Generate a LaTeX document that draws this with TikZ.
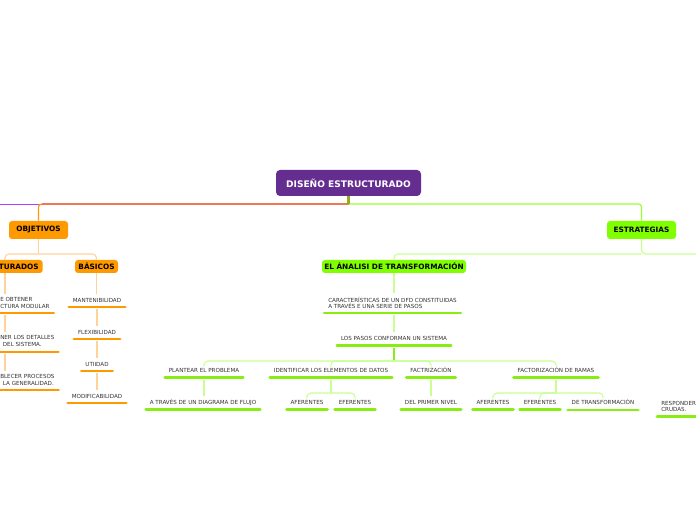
\documentclass[tikz,border=0pt]{standalone}
\usepackage{fontspec}
\setmainfont{DejaVu Sans}
\usetikzlibrary{calc}
\definecolor{rootc}{HTML}{662D91}
\definecolor{orng}{HTML}{FF9900}
\definecolor{orngl}{HTML}{FFD29A}
\definecolor{grn}{HTML}{80FF00}
\definecolor{grnbar}{HTML}{88EE11}
\definecolor{grnl}{HTML}{C8FF90}
\definecolor{grnb}{HTML}{99FF33}
\definecolor{txt}{HTML}{333333}
\definecolor{purp}{HTML}{B040FF}
\definecolor{olive}{HTML}{99AA22}
\definecolor{salmon}{HTML}{EE7755}
\begin{document}
\begin{tikzpicture}[x=0.75pt,y=-0.75pt,
  box/.style={rounded corners=2.25pt, inner sep=0pt, font=\bfseries\fontsize{5.5}{6}\selectfont, text=black, minimum height=9.75pt},
  lab/.style={font=\fontsize{4.2}{4.9}\selectfont, text=txt, inner xsep=3.75pt, inner ysep=0pt, text height=3.1pt, text depth=0pt},
  labtwo/.style={font=\fontsize{4.2}{4.9}\selectfont, text=txt, inner xsep=3.75pt, inner ysep=0pt, align=left},
  barO/.style={orng, line width=2.2pt, line cap=round, shorten <=0.9pt, shorten >=0.9pt},
  barG/.style={grnbar, line width=2.2pt, line cap=round, shorten <=0.9pt, shorten >=0.9pt},
  conO/.style={orngl, line width=0.8pt, rounded corners=3pt},
  conG/.style={grnl, line width=0.8pt, rounded corners=3pt},
  gapend/.style={shorten >=2.5pt},
  gapstart/.style={shorten <=1.5pt}]
\useasboundingbox[fill=white] (0,0) rectangle (696,520);

% ---------- boxes ----------
\node[box, fill=rootc, text=white, minimum width=108.75pt, minimum height=19.5pt,
      rounded corners=3pt, font=\bfseries\fontsize{6.8}{7}\selectfont] (root) at (348.5,183) {DISEÑO ESTRUCTURADO};
\node[box, fill=orng, minimum width=44.25pt, minimum height=13.5pt] (obj) at (38.5,230) {OBJETIVOS};
\node[box, fill=orng, inner xsep=3pt, anchor=east] (estr) at (43,266.5) {TURADOS};
\node[box, fill=orng, minimum width=32.25pt] (bas) at (96.5,266.5) {BÁSICOS};
\node[box, fill=grn, minimum width=51.75pt, minimum height=13.5pt] (estg) at (641.5,230) {ESTRATEGIAS};
\node[box, fill=grn, minimum width=108pt] (ana) at (394,266.5) {EL ÁNALISI DE TRANSFORMACIÓN};

% ---------- labels (orange branch) ----------
\node[labtwo, anchor=west] (e1) at (-5,303) {E OBTENER\\CTURA MODULAR};
\node[labtwo, anchor=west] (e2) at (-5,341) {NER LOS DETALLES\\\hspace*{2pt}DEL SISTEMA.};
\node[labtwo, anchor=west] (e3) at (-5,380) {BLECER PROCESOS\\\hspace*{2pt}LA GENERALIDAD.};
\node[lab] (m1) at (97,300) {MANTENIBILIDAD};
\node[lab] (m2) at (97,332) {FLEXIBILIDAD};
\node[lab] (m3) at (97,364) {UTIIDAD};
\node[lab] (m4) at (97,396) {MODIFICABILIDAD};

% ---------- labels (green branch) ----------
\node[labtwo, anchor=west] (c1) at (323,303) {CARACTERÍSTICAS DE UN DFD CONSTITUIDAS\\A TRAVÉS E UNA SERIE DE PASOS};
\node[lab] (c2) at (394,338) {LOS PASOS CONFORMAN UN SISTEMA};
\node[lab] (p1) at (204,370) {PLANTEAR EL PROBLEMA};
\node[lab] (p2) at (331,370) {IDENTIFICAR LOS ELEMENTOS DE DATOS};
\node[lab] (p3) at (431,370) {FACTRIZACIÓN};
\node[lab] (p4) at (556,370) {FACTORIZACIÓN DE RAMAS};
\node[lab] (q1) at (203,402) {A TRAVÉS DE UN DIAGRAMA DE FLUJO};
\node[lab] (q2) at (307,402) {AFERENTES};
\node[lab] (q3) at (355,402) {EFERENTES};
\node[lab] (q4) at (431,402) {DEL PRIMER NIVEL};
\node[lab] (q5) at (493,402) {AFERENTES};
\node[lab] (q6) at (540,402) {EFERENTES};
\node[lab] (q7) at (603,402.5) {DE TRANSFORMACIÓN};
\node[labtwo, anchor=west] (r1) at (656,406.5) {RESPONDER\\CRUDAS.};

% ---------- bar positions ----------
\foreach \n/\o in {e1/10,e2/11,e3/10,c1/10,r1/10}
  \coordinate (\n b) at ($(\n.center)+(0,\o)$);
\foreach \n in {m1,m2,m3,m4}
  \coordinate (\n b) at ($(\n.center)+(0,7)$);
\foreach \n in {c2,p1,p2,p3,p4,q1,q2,q3,q4,q5,q6,q7}
  \coordinate (\n b) at ($(\n.center)+(0,7.5)$);

% ---------- bars ----------
\foreach \n in {e1,e2,e3,m1,m2,m3,m4}
  \draw[barO] (\n b -| \n.west) -- (\n b -| \n.east);
\foreach \n in {c1,c2,p1,p2,p3,p4,q1,q2,q3,q4,q5,q6,q7,r1}
  \draw[barG] (\n b -| \n.west) -- (\n b -| \n.east);

% ---------- junction coordinates ----------
\coordinate (rj) at (348.5,204);
\coordinate (wl) at (-2,204.6);
\coordinate (oj) at (38.5,254);
\coordinate (ein) at (5,260);
\coordinate (gj) at (641.5,254);
\coordinate (gr) at (698,254);
\coordinate (pj) at (394,361);
\coordinate (p2j) at (331,393);
\coordinate (p4j) at (556,393);

% ---------- root connectors ----------
\draw[purp, line width=0.9pt] (rj |- wl) -- (wl);
\draw[salmon, line width=0.9pt] (rj) -- ($(rj -| obj.north)+(3,0)$);
\draw[orng, line width=0.9pt, rounded corners=2.25pt] ($(rj -| obj.north)+(3,0)$) -| (obj.north);
\draw[grnb, line width=0.9pt, rounded corners=2.25pt] (rj) -| (estg.north);
\draw[olive, line width=1.6pt] (root.south) -- (rj);

% ---------- orange branch ----------
\draw[conO] (obj.south) -- (oj);
\draw[conO] (oj) -| (ein);
\draw[conO] (oj) -| (bas.north);
\draw[conO, gapend] (estr.south -| ein) -- (e1.north -| ein);
\draw[conO, gapstart, gapend] (e1b -| ein) -- (e2.north -| ein);
\draw[conO, gapstart, gapend] (e2b -| ein) -- (e3.north -| ein);
\draw[conO, gapend] (bas.south) -- (m1.north -| bas.south);
\draw[conO, gapstart, gapend] (m1b) -- (m2.north);
\draw[conO, gapstart, gapend] (m2b) -- (m3.north);
\draw[conO, gapstart, gapend] (m3b) -- (m4.north);

% ---------- green branch ----------
\draw[conG] (estg.south) -- (gj) -- (gr);
\draw[conG] (gj) -| (ana.north);
\draw[conG, gapend] (ana.south) -- (c1.north -| ana.south);
\draw[conG, gapstart, gapend] (c1b -| ana.south) -- (c2.north -| ana.south);
\draw[grnbar, line width=1.4pt, gapstart] (c2b) -- (pj);
\foreach \n in {p1,p2,p3,p4}
  \draw[conG, gapend] (pj) -| (\n.north);
\draw[conG, gapstart, gapend] (p1b) -- (q1.north -| p1b);
\draw[conG, gapstart] (p2b) -- (p2j);
\draw[conG, gapend] (p2j) -| (q2.north);
\draw[conG, gapend] (p2j) -| (q3.north);
\draw[conG, gapstart, gapend] (p3b) -- (q4.north);
\draw[conG, gapstart] (p4b) -- (p4j);
\draw[conG, gapend] (p4j) -| (q5.north);
\draw[conG, gapend] (p4j) -| (q6.north);
\draw[conG, gapend] (p4j) -| (q7.north);
\end{tikzpicture}
\end{document}
